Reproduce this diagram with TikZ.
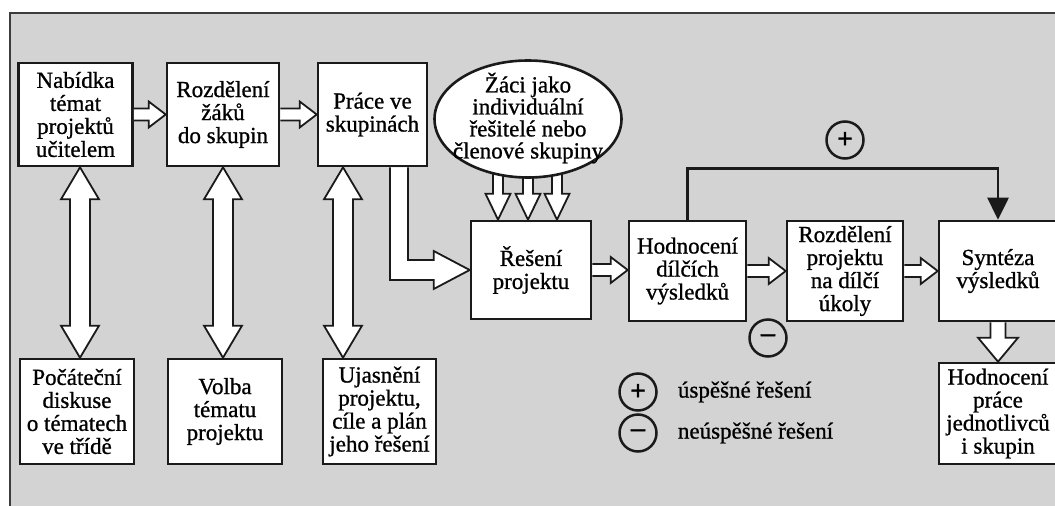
\documentclass[tikz,border=0pt]{standalone}
\usepackage{fontspec}
\setmainfont{Liberation Serif}[FakeBold=0.9]
\usetikzlibrary{calc,positioning,shapes.geometric,arrows.meta}
\definecolor{projpaper}{HTML}{D3D3D3}
\definecolor{projink}{HTML}{1A1A1A}

\newcommand{\hollowright}[2]{%
  \path[hollow] let \p1=#1, \p2=#2 in
    (\x1,\y1+6pt) -- (\x2-17pt,\y1+6pt) -- (\x2-17pt,\y1+13pt) -- (\x2,\y1)
    -- (\x2-17pt,\y1-13pt) -- (\x2-17pt,\y1-6pt) -- (\x1,\y1-6pt);}
\newcommand{\hollowdown}[5]{%
  \path[hollow] let \p1=#1, \p2=#2 in
    (\x1-#3,\y1) -- (\x1-#3,\y2+#5) -- (\x1-#4,\y2+#5) -- (\x1,\y2)
    -- (\x1+#4,\y2+#5) -- (\x1+#3,\y2+#5) -- (\x1+#3,\y1);}
\newcommand{\hollowboth}[2]{%
  \path[hollow] let \p1=#1, \p2=#2 in
    (\x1,\y1) -- (\x1+19pt,\y1-32pt) -- (\x1+10pt,\y1-32pt) -- (\x1+10pt,\y2+32pt)
    -- (\x1+19pt,\y2+32pt) -- (\x1,\y2) -- (\x1-19pt,\y2+32pt) -- (\x1-10pt,\y2+32pt)
    -- (\x1-10pt,\y1-32pt) -- (\x1-19pt,\y1-32pt) -- cycle;}

\begin{document}
\begin{tikzpicture}[x=1pt,y=-1pt,>=stealth,font=\fontsize{23}{23}\selectfont]
  \tikzstyle{box}=[draw=projink, line width=2.6pt, fill=white, align=center, inner sep=0pt, minimum width=114pt, minimum height=103pt]
  \tikzstyle{hollow}=[draw=projink, line width=1.8pt, fill=white, line join=miter]
  \tikzstyle{flow}=[draw=projink, line width=2.8pt, -{Triangle[length=22pt,width=21pt]}]
  \tikzstyle{sign}=[circle, draw=projink, line width=2.5pt, minimum size=37pt, inner sep=0pt, font=\bfseries\fontsize{28}{28}\selectfont]
  \tikzstyle{legend}=[inner sep=0pt, anchor=west]

  \useasboundingbox (0,0) rectangle (1055,506);
  \clip (0,0) rectangle (1055,506);
  \fill[white] (0,0) rectangle (1055,506);
  \fill[projpaper] (10,13) rectangle (1055,506);
  \draw[projink!85, line width=1.6pt] (10,506) -- (10,13) -- (1055,13);

  \node[box] (nabidka) at (75.5,114.5) {Nabídka\\témat\\projektů\\učitelem};
  \node[box, minimum width=112pt] (rozdeleni) at (223,114.5) {Rozdělení\\žáků\\do skupin};
  \node[box, minimum width=109pt] (prace) at (372.5,114.5) {Práce ve\\skupinách};
  \node[box, minimum width=120pt, minimum height=98pt] (reseni) at (531,270) {Řešení\\projektu};
  \node[box, minimum width=117pt, minimum height=100pt] (hodnoceni) at (687.5,271) {Hodnocení\\dílčích\\výsledků};
  \node[box, minimum width=116pt, minimum height=100pt] (rozdeleniP) at (845,271) {Rozdělení\\projektu\\na dílčí\\úkoly};
  \node[box, minimum width=118pt, minimum height=100pt] (synteza) at (998,271) {Syntéza\\výsledků};
  \node[box, minimum width=118pt, minimum height=101pt] (hodnoceniP) at (998,413.5) {Hodnocení\\práce\\jednotlivců\\i skupin};
  \node[box, minimum height=105pt] (pocatecni) at (77,411.5) {Počáteční\\diskuse\\o tématech\\ve třídě};
  \node[box, minimum height=105pt] (volba) at (225,411.5) {Volba\\tématu\\projektu};
  \node[box, minimum width=113pt, minimum height=105pt] (ujasneni) at (379.5,411.5) {Ujasnění\\projektu,\\cíle a plán\\jeho řešení};

  \coordinate (zacipos) at (528,119);
  \foreach \dx in {-30pt,0pt,29pt} {
    \hollowdown{([xshift=\dx]zacipos)}{(reseni.north)}{5pt}{12.5pt}{26pt}
  }
  \node[ellipse, draw=projink, line width=2.6pt, fill=white, minimum width=187pt, minimum height=117pt] (zaci) at (zacipos) {};
  \node[align=center, inner sep=0pt, font=\fontsize{23}{22}\selectfont] (zacitext) at ([yshift=1pt]zaci.center) {Žáci jako\\individuální\\řešitelé nebo\\členové skupiny};

  \hollowright{(nabidka.east)}{(rozdeleni.west)}
  \hollowright{(rozdeleni.east)}{(prace.west)}
  \hollowright{(reseni.east)}{(hodnoceni.west)}
  \hollowright{(hodnoceni.east)}{(rozdeleniP.west)}
  \hollowright{(rozdeleniP.east)}{(synteza.west)}

  \hollowboth{([xshift=4.5pt]nabidka.south)}{(pocatecni.north)}
  \hollowboth{(rozdeleni.south)}{(volba.north)}
  \hollowboth{([xshift=-29.5pt]prace.south)}{(ujasneni.north)}

  \path[hollow] let \p1=([xshift=26.5pt]prace.south), \p2=(reseni.west) in
    (\x1-9pt,\y1) -- (\x1-9pt,\y2-10pt) -- (\x2-36pt,\y2-10pt) -- (\x2-36pt,\y2-19pt) -- (\x2,\y2)
    -- (\x2-36pt,\y2+19pt) -- (\x2-36pt,\y2+10pt) -- (\x1+9pt,\y2+10pt) -- (\x1+9pt,\y1);

  \hollowdown{(synteza.south)}{(hodnoceniP.north)}{7.5pt}{20pt}{24pt}

  \draw[flow] (hodnoceni.north) -- ++(0,-51) -| (synteza.north);
  \node[sign] (plus) at (845,140) {+};
  \node[sign] (minus) at (768,338) {\textendash};

  \node[sign] (plusleg) at (638,392) {+};
  \node[sign] (minusleg) at (638,433) {\textendash};
  \node[legend, right=20pt of plusleg] (plustext) {úspěšné řešení};
  \node[legend, right=20pt of minusleg] (minustext) {neúspěšné řešení};
\end{tikzpicture}
\end{document}
